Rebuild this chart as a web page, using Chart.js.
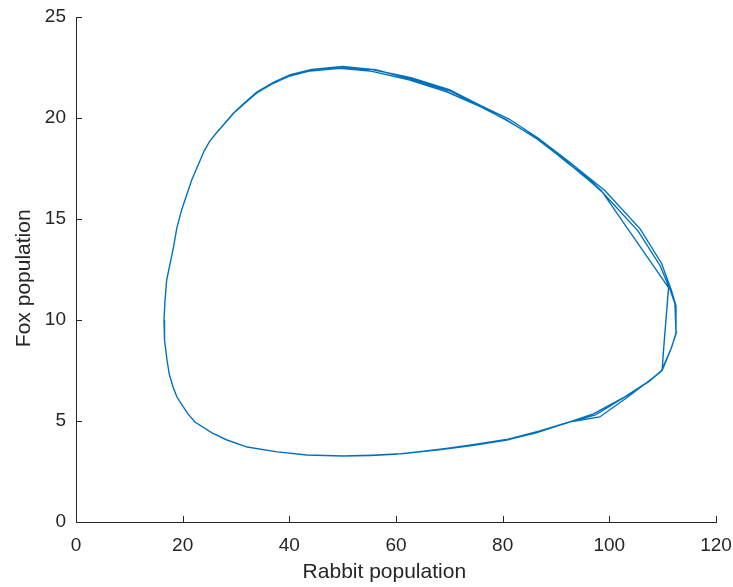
<!DOCTYPE html>
<html>
<head>
<meta charset="utf-8">
<script src="https://cdn.jsdelivr.net/npm/chart.js@4"></script>
<style>
  body { margin: 0; background: #fff; }
  #wrap { width: 733px; height: 587px; }
</style>
</head>
<body>
<div id="wrap"><canvas id="myChart" width="733" height="587"></canvas></div>
<script>
// rabbit (x) / fox (y) values, three laps of the cycle
var rabbits1 = [50.1, 55.5, 60.8, 68.3, 74.5, 80.8, 86.5, 92.0, 97.0, 102.9, 107.6, 109.9, 111.7, 112.5, 112.3, 111.4, 109.5, 105.4, 98.8, 95.8, 92.0, 86.5, 80.8, 75.8, 69.5, 62.6, 55.1, 49.5, 43.9, 40.1, 37.0, 33.9, 31.4, 29.5, 26.2, 25.0, 24.0, 22.9, 21.7, 19.8, 18.9, 18.3, 17.0, 16.7, 16.5, 16.6, 17.06, 17.5, 18.2, 18.9, 19.9, 21.0, 22.3, 25.5, 28.3, 32.1, 37.7, 43.3, 50.1];
var foxes1   = [3.27, 3.3, 3.37, 3.6, 3.82, 4.06, 4.45, 4.9, 5.35, 6.2, 7.0, 7.5, 8.66, 9.36, 10.8, 11.5, 12.7, 14.4, 16.3, 17.0, 17.84, 18.95, 19.9, 20.56, 21.3, 21.88, 22.33, 22.46, 22.33, 22.08, 21.72, 21.24, 20.68, 20.23, 19.22, 18.82, 18.35, 17.67, 16.93, 15.45, 14.55, 13.63, 11.98, 10.99, 10.0, 9.0, 8.02, 7.3, 6.68, 6.2, 5.79, 5.35, 4.95, 4.41, 4.06, 3.71, 3.47, 3.32, 3.27];

var rabbits2 = [50.1, 55.5, 61.0, 68.5, 74.7, 81.0, 86.8, 92.5, 98.2, 103.0, 107.5, 109.9, 110.1, 111.1, 98.5, 95.9, 92.3, 86.7, 81.0, 75.9, 70.0, 62.8, 56.0, 50.0, 44.3, 40.3, 37.2, 34.0, 31.5, 29.6, 26.2, 25.0, 24.0, 22.9, 21.7, 19.8, 18.9, 18.3, 17.0, 16.7, 16.5, 16.6, 17.06, 17.5, 18.2, 18.9, 19.9, 21.0, 22.3, 25.5, 28.3, 32.1, 37.7, 43.3, 50.1];
var foxes2   = [3.27, 3.31, 3.38, 3.61, 3.84, 4.1, 4.5, 4.95, 5.2, 6.1, 7.0, 7.5, 8.3, 11.6, 16.4, 17.05, 17.75, 18.95, 19.85, 20.58, 21.35, 21.93, 22.4, 22.47, 22.38, 22.12, 21.75, 21.27, 20.7, 20.25, 19.22, 18.82, 18.35, 17.67, 16.93, 15.45, 14.55, 13.63, 11.98, 10.99, 10.0, 9.0, 8.02, 7.3, 6.68, 6.2, 5.79, 5.35, 4.95, 4.41, 4.06, 3.71, 3.47, 3.32, 3.27];

var rabbits3 = [50.1, 55.3, 60.5, 68.1, 74.3, 80.5, 86.3, 92.2, 97.4, 102.7, 107.4, 109.8, 111.6, 112.6, 112.5, 111.6, 109.8, 105.8, 99.2, 96.0, 92.4, 86.7, 81.2, 76.0, 70.0, 62.8, 55.5, 50.0, 44.2, 40.2, 37.1, 33.9, 31.4, 29.5, 26.2, 25.0, 24.0, 22.9, 21.7, 19.8, 18.9, 18.3, 17.0, 16.7, 16.5, 16.6, 17.06, 17.5, 18.2, 18.9, 19.9, 21.0, 22.3, 25.5, 28.3, 32.1, 37.7, 43.3, 50.1];
var foxes3   = [3.27, 3.29, 3.36, 3.58, 3.79, 4.04, 4.42, 4.92, 5.3, 6.15, 6.95, 7.5, 8.6, 9.4, 10.7, 11.5, 12.8, 14.5, 16.4, 17.08, 17.85, 19.0, 19.95, 20.6, 21.4, 22.0, 22.4, 22.55, 22.4, 22.14, 21.78, 21.28, 20.7, 20.24, 19.22, 18.82, 18.35, 17.67, 16.93, 15.45, 14.55, 13.63, 11.98, 10.99, 10.0, 9.0, 8.02, 7.3, 6.68, 6.2, 5.79, 5.35, 4.95, 4.41, 4.06, 3.71, 3.47, 3.32, 3.27];

var xTicks = [0, 20, 40, 60, 80, 100, 120];
var yTicks = [0, 5, 10, 15, 20, 25];

var points = [];
[[rabbits1, foxes1], [rabbits2, foxes2], [rabbits3, foxes3]].forEach(function (lap) {
  for (var i = 0; i < lap[0].length; i++) {
    points.push({ x: lap[0][i], y: lap[1][i] });
  }
});

var axisColor = "#262626";
var font = "'Liberation Sans', Arial, Helvetica, sans-serif";

// matlab style ticks pointing into the plot
var innerTicks = {
  id: "innerTicks",
  afterDraw: function (chart) {
    var ctx = chart.ctx;
    var area = chart.chartArea;
    var xs = chart.scales.x, ys = chart.scales.y;
    ctx.save();
    ctx.strokeStyle = axisColor;
    ctx.lineWidth = 1;
    ctx.beginPath();
    xTicks.forEach(function (v) {
      var px = Math.round(xs.getPixelForValue(v)) + 0.5;
      ctx.moveTo(px, area.bottom);
      ctx.lineTo(px, area.bottom - 6);
    });
    yTicks.forEach(function (v) {
      var py = Math.round(ys.getPixelForValue(v)) + 0.5;
      ctx.moveTo(area.left, py);
      ctx.lineTo(area.left + 6, py);
    });
    ctx.stroke();
    ctx.restore();
  }
};

var myChart = new Chart("myChart", {
  type: "scatter",
  data: {
    datasets: [
      {
        data: points,
        showLine: true,
        borderColor: "#0072BD",
        backgroundColor: "#0072BD",
        borderWidth: 1.4,
        pointRadius: 0,
        tension: 0,
        fill: false,
      },
    ],
  },
  options: {
    responsive: false,
    animation: false,
    layout: { padding: { left: 0, top: 17, right: 17, bottom: 0 } },
    plugins: { legend: { display: false }, tooltip: { enabled: false } },
    scales: {
      x: {
        type: "linear",
        min: 0,
        max: 120,
        afterBuildTicks: function (s) { s.ticks = xTicks.map(function (v) { return { value: v }; }); },
        afterFit: function (s) { s.height = 65; s.paddingLeft = 0; s.paddingRight = 0; },
        grid: { display: false, drawTicks: false },
        border: { display: true, color: axisColor, width: 1 },
        ticks: { color: axisColor, font: { family: font, size: 19 }, padding: 12, maxRotation: 0 },
        title: { display: true, text: "Rabbit population    ", color: axisColor, font: { family: font, size: 21 }, padding: { top: 0, bottom: 2 } },
      },
      y: {
        type: "linear",
        min: 0,
        max: 25,
        afterBuildTicks: function (s) { s.ticks = yTicks.map(function (v) { return { value: v }; }); },
        afterFit: function (s) { s.width = 76; s.paddingTop = 0; s.paddingBottom = 0; },
        grid: { display: false, drawTicks: false },
        border: { display: true, color: axisColor, width: 1 },
        ticks: { color: axisColor, font: { family: font, size: 19 }, padding: 10 },
        title: { display: true, text: "Fox population   ", color: axisColor, font: { family: font, size: 21 }, padding: { top: 12, bottom: 0 } },
      },
    },
  },
  plugins: [innerTicks],
});
</script>
</body>
</html>
